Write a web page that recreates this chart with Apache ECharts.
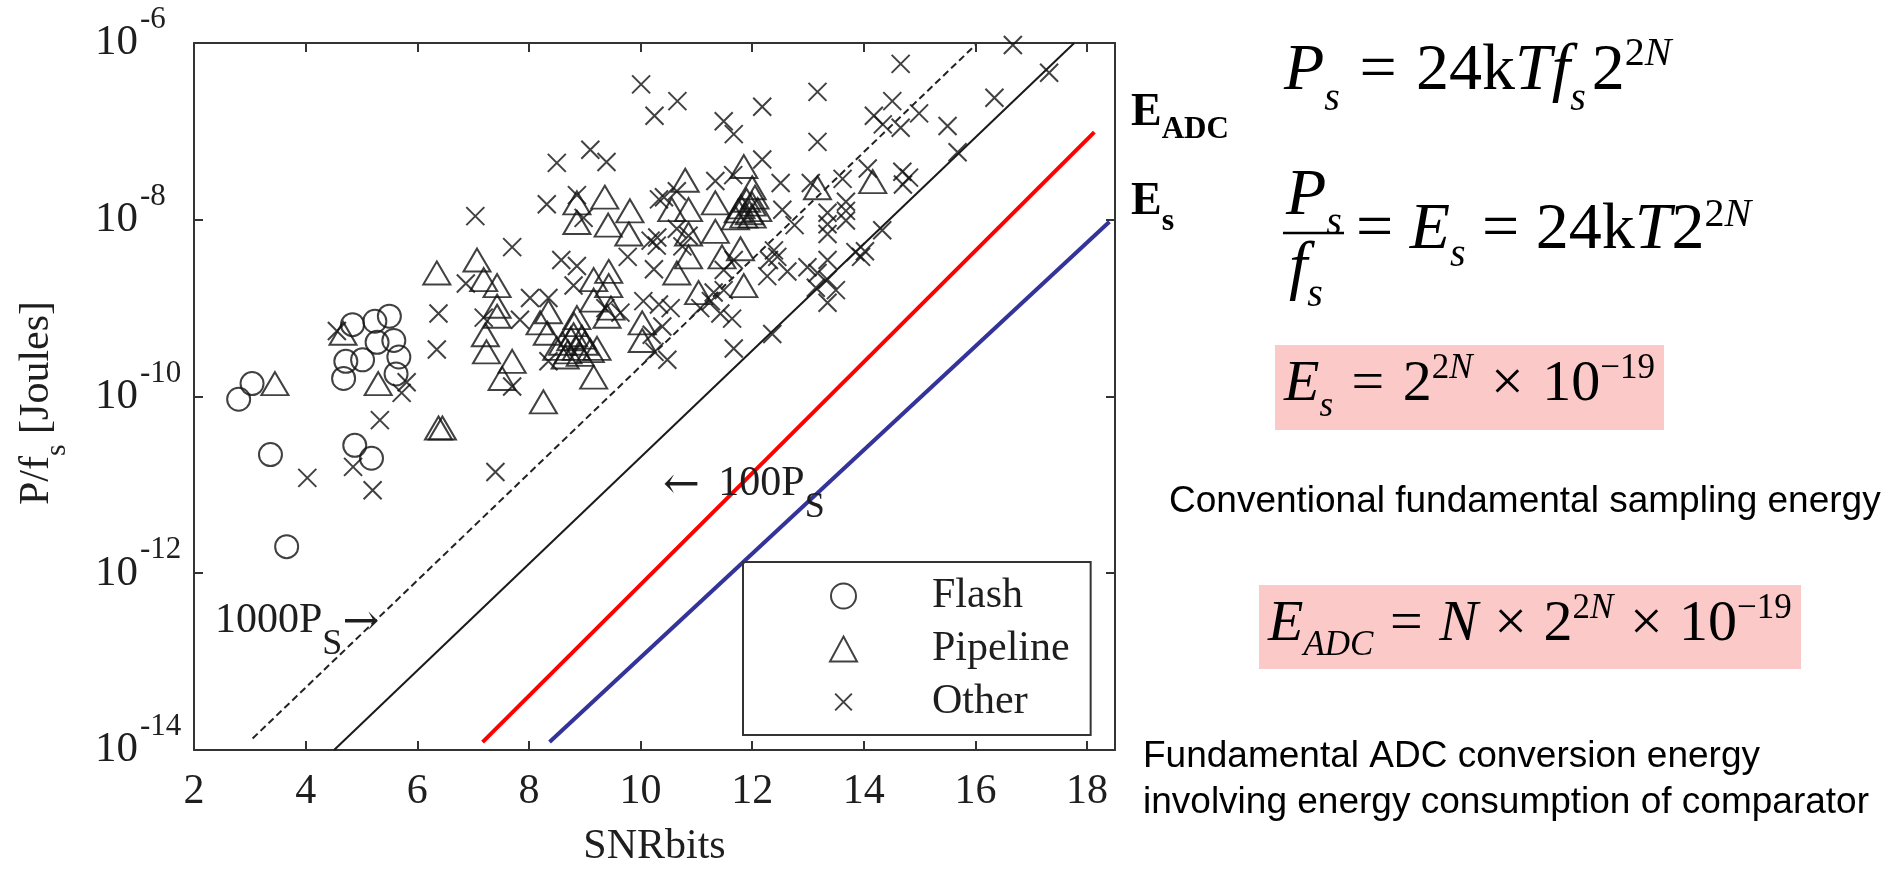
<!DOCTYPE html>
<html><head><meta charset="utf-8">
<script src="https://cdn.jsdelivr.net/npm/echarts@6/dist/echarts.min.js"></script>
<style>html,body{margin:0;padding:0;background:#fff}#c{width:1901px;height:873px}</style>
</head><body><div id="c"></div>
<script>
// ---- data (SNRbits, P/fs in Joules) ----
const xTickValues = [2, 4, 6, 8, 10, 12, 14, 16, 18];
const yTickExponents = [-14, -12, -10, -8, -6];
const seriesNames = ['Flash', 'Pipeline', 'Other'];

const flash = [[2.80,9.3e-11],[3.04,1.4e-10],[3.37,2.2e-11],[3.66,2.0e-12],[4.88,2.8e-11],[5.18,2.0e-11],
[4.84,6.5e-10],[5.24,7.1e-10],[5.50,8.1e-10],[5.28,4.1e-10],[5.58,4.3e-10],[4.72,2.5e-10],[5.02,2.6e-10],
[5.67,2.8e-10],[4.68,1.6e-10],[5.62,1.8e-10]];

const pipeline = [[3.45,1.4e-10],[4.67,5.2e-10],[5.30,1.4e-10],[6.38,4.4e-11],[6.45,4.4e-11],[6.35,2.5e-9],
[7.07,3.5e-9],[7.19,2.1e-9],[7.43,1.8e-9],[7.43,1.05e-9],[7.43,8.1e-10],[7.22,5.0e-10],[7.24,3.2e-10],
[7.70,2.5e-10],[7.52,1.6e-10],[8.26,8.7e-11],[9.16,1.66e-10],[8.20,6.8e-10],[8.35,9.1e-10],[8.86,1.55e-8],
[8.86,9.3e-9],[9.36,1.8e-8],[9.42,8.7e-9],[9.16,2.1e-9],[9.16,1.23e-9],[8.86,7.8e-10],[9.40,8.1e-10],
[9.81,1.26e-8],[9.79,6.9e-9],[10.80,2.8e-8],[10.56,1.3e-8],[10.86,1.3e-8],[10.86,6.9e-9],[10.86,3.8e-9],
[10.65,2.5e-9],[11.34,1.55e-8],[11.85,4.0e-8],[12.00,2.3e-8],[11.80,1.4e-8],[11.90,1.66e-8],[12.00,1.5e-8],
[12.10,1.3e-8],[11.95,1.2e-8],[11.85,1.1e-8],[12.05,1.8e-8],[11.75,1.26e-8],[12.00,1.1e-8],[11.70,1.05e-8],
[13.17,2.3e-8],[14.16,2.7e-8],[11.34,7.4e-9],[11.46,3.8e-9],[11.79,4.7e-9],[11.04,1.5e-9],[11.85,1.8e-9],
[9.43,2.6e-9],[9.43,1.8e-9],[9.47,1.0e-9],[10.03,6.8e-10],[10.03,4.3e-10],[8.50,3.5e-10],[8.60,4.0e-10],
[8.70,3.2e-10],[8.75,4.5e-10],[8.85,3.5e-10],[8.92,3.0e-10],[9.00,4.0e-10],[9.10,3.3e-10],[9.22,3.5e-10],
[8.65,2.8e-10],[8.80,5.0e-10],[8.95,4.7e-10],[8.33,5.2e-10],[8.81,6.5e-10]];

const other = [[4.03,1.2e-11],[4.85,1.6e-11],[5.20,8.7e-12],[5.33,5.4e-11],[5.81,1.45e-10],[5.72,1.1e-10],
[4.56,5.5e-10],[6.35,3.4e-10],[6.38,8.7e-10],[6.87,1.9e-9],[7.04,1.1e-8],[7.70,4.9e-9],[7.19,7.8e-10],
[7.40,1.4e-11],[7.70,1.3e-10],[8.35,2.5e-10],[7.84,7.4e-10],[8.02,1.3e-9],[8.35,1.3e-9],[8.50,4.4e-8],
[9.10,6.2e-8],[9.39,4.5e-8],[8.32,1.5e-8],[8.86,1.9e-8],[8.98,1.05e-8],[8.58,3.5e-9],[8.86,3.0e-9],
[8.80,1.8e-9],[9.37,1.0e-9],[10.01,3.4e-7],[10.25,1.5e-7],[10.66,2.2e-7],[10.33,1.7e-8],[9.77,3.8e-9],
[10.18,5.8e-9],[10.29,5.1e-9],[10.24,2.75e-9],[9.64,8.9e-10],[10.05,1.2e-9],[10.33,1.1e-9],[10.54,1.0e-9],
[10.39,6.2e-10],[10.25,3.2e-10],[10.48,2.6e-10],[10.20,5.0e-10],[11.49,1.3e-7],[11.67,9.3e-8],[12.18,1.9e-7],
[13.17,2.8e-7],[13.17,7.6e-8],[12.18,4.8e-8],[14.66,5.8e-7],[14.51,2.2e-7],[14.18,1.5e-7],[14.34,1.2e-7],
[14.66,1.1e-7],[14.99,1.6e-7],[15.50,1.15e-7],[16.34,2.4e-7],[16.67,9.5e-7],[17.32,4.6e-7],[15.68,5.8e-8],
[14.69,3.5e-8],[14.81,3.0e-8],[14.70,2.5e-8],[11.34,2.75e-8],[11.66,3.2e-8],[12.51,2.6e-8],[13.05,2.6e-8],
[13.62,2.9e-8],[14.07,3.8e-8],[10.42,1.8e-8],[12.54,1.3e-8],[12.76,8.7e-9],[13.35,1.2e-8],[13.35,8.9e-9],
[13.35,6.9e-9],[13.68,1.6e-8],[13.68,1.26e-8],[13.68,9.8e-9],[14.33,7.6e-9],[13.85,4.3e-9],[13.95,3.8e-9],
[14.02,4.4e-9],[13.35,3.5e-9],[13.35,2.1e-9],[13.50,1.6e-9],[13.35,1.15e-9],[13.17,2.5e-9],[12.99,2.9e-9],
[13.14,1.7e-9],[12.39,4.5e-9],[12.45,3.8e-9],[12.30,3.5e-9],[12.27,2.3e-9],[12.63,2.6e-9],[11.67,3.5e-9],
[11.49,2.7e-9],[11.31,1.5e-9],[11.49,1.6e-9],[11.26,1.2e-9],[11.07,1.0e-9],[11.43,8.7e-10],[11.64,7.6e-10],
[11.67,3.5e-10],[12.36,5.1e-10],[10.30,6.3e-9],[10.86,6.6e-9],[10.65,7.9e-9],[10.75,5.0e-9],[10.65,2.1e-8]];

// reference lines (end points)
const line1000Ps = [[3.05,1.35e-14],[16.0,9.5e-7]];
const line100Ps  = [[4.51,1.0e-14],[17.77,1.0e-6]];
const lineEadc   = [[7.17,1.23e-14],[18.13,9.8e-8]];
const lineEs     = [[8.37,1.23e-14],[18.40,9.5e-9]];

// ---- chart ----
const SERIF = 'Liberation Serif';
const INK = '#1e1e1e';
const chart = echarts.init(document.getElementById('c'), null, {renderer: 'canvas'});

const markerStyle = {color: 'rgba(0,0,0,0)', borderColor: '#111', borderWidth: 2};
const xPath = 'path://M0,0L12,12M12,0L0,12';
const xPathLegend = 'path://M-3,-3M0,0L12,12M12,0L0,12M15,15';

const axisLineStyle = {lineStyle: {color: '#333', width: 2}};
const tickStyle = {inside: true, length: 9, lineStyle: {color: '#333', width: 2}};

const rSup = (fs, up, italic) => ({fontFamily: SERIF, fontSize: fs, lineHeight: fs, fontStyle: italic ? 'italic' : 'normal', padding: [0, 0, 2 * up, 0]});
const rSub = (fs, down, italic, padR) => ({fontFamily: SERIF, fontSize: fs, lineHeight: fs, fontStyle: italic ? 'italic' : 'normal', padding: [2 * down, padR || 0, 0, 0]});

function fText(x, y, text, size, subDown, supUp, opPad) {
  const ss = Math.round(size * 0.6);
  return {
    type: 'text', x: x, y: y, z: 10,
    style: {
      text: text, fill: '#000', textVerticalAlign: 'middle', textAlign: 'left',
      rich: {
        i: {fontFamily: SERIF, fontStyle: 'italic', fontSize: size, lineHeight: size + 4},
        r: {fontFamily: SERIF, fontSize: size, lineHeight: size + 4},
        o: {fontFamily: SERIF, fontSize: size, lineHeight: size + 4, padding: [0, opPad || 0, 0, opPad || 0]},
        sb: rSub(ss, subDown, true),
        sbg: rSub(ss, subDown, true, 6),
        sp: rSup(ss, supUp, false),
        spi: rSup(ss, supUp, true)
      }
    }
  };
}

const arrowTok = {fontFamily: 'DejaVu Serif', fontSize: 44, lineHeight: 44};

const option = {
  animation: false,
  backgroundColor: '#fff',
  grid: {left: 194, top: 43, right: 786, bottom: 113, containLabel: false},
  legend: {
    orient: 'vertical', left: 743, top: 562,
    padding: [12, 21, 11, 86],
    itemWidth: 27, itemHeight: 25, itemGap: 9,
    borderColor: '#333', borderWidth: 2,
    selectedMode: false,
    itemStyle: markerStyle,
    textStyle: {fontFamily: SERIF, fontSize: 42, color: INK, lineHeight: 44, padding: [0, 0, 0, 70]},
    data: [{name: seriesNames[0]}, {name: seriesNames[1]}, {name: seriesNames[2], icon: xPathLegend}]
  },
  xAxis: [{
    type: 'value', min: xTickValues[0], max: 18.5, interval: 2,
    position: 'bottom',
    axisLine: axisLineStyle, axisTick: tickStyle, splitLine: {show: false},
    axisLabel: {
      margin: 21, color: INK, fontFamily: SERIF, fontSize: 42,
      formatter: v => xTickValues.indexOf(v) >= 0 ? String(v) : ''
    },
    name: 'SNRbits', nameLocation: 'middle', nameGap: 76,
    nameTextStyle: {fontFamily: SERIF, fontSize: 42, color: INK}
  }, {
    type: 'value', min: xTickValues[0], max: 18.5, interval: 2, position: 'top',
    axisLine: axisLineStyle, axisTick: tickStyle, splitLine: {show: false}, axisLabel: {show: false}
  }],
  yAxis: [{
    type: 'log', logBase: 100, min: 1e-14, max: 1e-6,
    position: 'left',
    axisLine: axisLineStyle, axisTick: tickStyle, splitLine: {show: false}, minorTick: {show: false},
    axisLabel: {
      margin: 99, align: 'left', color: INK,
      formatter: v => {
        const e = Math.round(Math.log10(v));
        return yTickExponents.indexOf(e) >= 0 ? '{b|10}{s|' + e + '}' : '';
      },
      rich: {
        b: {fontFamily: SERIF, fontSize: 43, lineHeight: 46, color: INK},
        s: {fontFamily: SERIF, fontSize: 31, lineHeight: 31, padding: [0, 0, 46, 2], color: INK}
      }
    }
  }, {
    type: 'log', logBase: 100, min: 1e-14, max: 1e-6, position: 'right',
    axisLine: axisLineStyle, axisTick: tickStyle, splitLine: {show: false}, axisLabel: {show: false}
  }],
  series: [
    {type: 'line', data: line1000Ps, symbol: 'none', silent: true,
     lineStyle: {color: '#222', width: 2, type: [7, 4]}},
    {type: 'line', data: line100Ps, symbol: 'none', silent: true,
     lineStyle: {color: '#1a1a1a', width: 2}},
    {type: 'line', data: lineEadc, symbol: 'none', silent: true,
     lineStyle: {color: '#ff0000', width: 4}},
    {type: 'line', data: lineEs, symbol: 'none', silent: true,
     lineStyle: {color: '#333399', width: 4}},
    {name: seriesNames[0], type: 'scatter', data: flash, symbol: 'circle', symbolSize: 23,
     itemStyle: markerStyle, silent: true},
    {name: seriesNames[1], type: 'scatter', data: pipeline, symbol: 'triangle', symbolSize: [27, 23],
     itemStyle: markerStyle, silent: true},
    {name: seriesNames[2], type: 'scatter', data: other, symbol: xPath, symbolSize: 18,
     itemStyle: markerStyle, silent: true}
  ],
  graphic: [
    // y axis title
    {type: 'text', x: 37, y: 403, rotation: Math.PI / 2, z: 10, style: {
      text: '{m|P/f}{s|s}{m| [Joules]}', fill: INK, textAlign: 'center', textVerticalAlign: 'middle',
      rich: {m: {fontFamily: SERIF, fontSize: 42, lineHeight: 44},
             s: {fontFamily: SERIF, fontSize: 30, lineHeight: 30, padding: [40, 0, 0, 0]}}}},
    // in-plot annotations
    {type: 'text', x: 215, y: 621, z: 10, style: {
      text: '{m|1000P}{s|S}{a|\u2192}', fill: INK, textVerticalAlign: 'middle',
      rich: {m: {fontFamily: SERIF, fontSize: 42, lineHeight: 44},
             s: {fontFamily: SERIF, fontSize: 36, lineHeight: 36, padding: [48, 0, 0, 0]},
             a: Object.assign({padding: [6, 0, 0, 0]}, arrowTok)}}},
    {type: 'text', x: 663, y: 484, z: 10, style: {
      text: '{a|\u2190}{m| 100P}{s|S}', fill: INK, textVerticalAlign: 'middle',
      rich: {m: {fontFamily: SERIF, fontSize: 42, lineHeight: 44},
             s: {fontFamily: SERIF, fontSize: 36, lineHeight: 36, padding: [48, 0, 0, 0]},
             a: Object.assign({padding: [6, 8, 0, 0]}, arrowTok)}}},
    // line labels
    {type: 'text', x: 1131, y: 113, z: 10, style: {
      text: '{e|E}{s|ADC}', fill: '#000', textVerticalAlign: 'middle',
      rich: {e: {fontFamily: SERIF, fontWeight: 'bold', fontSize: 46, lineHeight: 48},
             s: {fontFamily: SERIF, fontWeight: 'bold', fontSize: 31, lineHeight: 31, padding: [34, 0, 0, 0]}}}},
    {type: 'text', x: 1131, y: 202, z: 10, style: {
      text: '{e|E}{s|s}', fill: '#000', textVerticalAlign: 'middle',
      rich: {e: {fontFamily: SERIF, fontWeight: 'bold', fontSize: 46, lineHeight: 48},
             s: {fontFamily: SERIF, fontWeight: 'bold', fontSize: 32, lineHeight: 32, padding: [40, 0, 0, 0]}}}},
    // pink boxes
    {type: 'rect', z: 1, shape: {x: 1275, y: 345, width: 389, height: 85}, style: {fill: '#fcc9c9'}},
    {type: 'rect', z: 1, shape: {x: 1259, y: 585, width: 542, height: 84}, style: {fill: '#fcc9c9'}},
    // formulas
    fText(1284, 72, '{i|P}{sb|s}{o| = }{r|24k}{i|Tf}{sbg|s}{r|2}{sp|2}{spi|N}', 66, 27, 18, 3),
    fText(1286, 197, '{i|P}{sb|s}', 66, 26, 18),
    {type: 'line', z: 10, shape: {x1: 1283, y1: 233, x2: 1344, y2: 233}, style: {stroke: '#000', lineWidth: 2.5}},
    fText(1289, 270, '{i|f}{sb|s}', 66, 25, 18),
    fText(1356, 231, '{o|= }{i|E}{sb|s}{o| = }{r|24k}{i|T}{r|2}{sp|2}{spi|N}', 66, 24, 16, 0),
    fText(1284, 385, '{i|E}{sb|s}{o| = }{r|2}{sp|2}{spi|N}{o| \u00d7 }{r|10}{sp|\u221219}', 58, 22, 16, 4),
    fText(1268, 625, '{i|E}{sb|ADC}{o| = }{i|N}{o| \u00d7 }{r|2}{sp|2}{spi|N}{o| \u00d7 }{r|10}{sp|\u221219}', 58, 21, 16, 2),
    // explanatory text
    {type: 'text', x: 1169, y: 502, z: 10, style: {text: 'Conventional fundamental sampling energy',
      font: '37px "Liberation Sans"', fill: '#000', textVerticalAlign: 'middle'}},
    {type: 'text', x: 1143, y: 757, z: 10, style: {text: 'Fundamental ADC conversion energy',
      font: '37px "Liberation Sans"', fill: '#000', textVerticalAlign: 'middle'}},
    {type: 'text', x: 1143, y: 803, z: 10, style: {text: 'involving energy consumption of comparator',
      font: '37px "Liberation Sans"', fill: '#000', textVerticalAlign: 'middle'}}
  ]
};
chart.setOption(option);
</script>
</body></html>
